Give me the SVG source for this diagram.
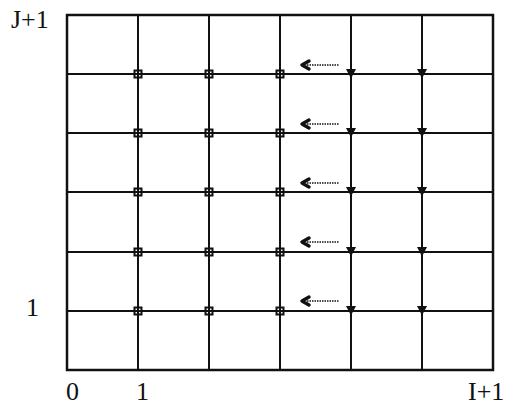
<svg xmlns="http://www.w3.org/2000/svg" width="505" height="405" viewBox="0 0 505 405">
<defs>
<style>
.g{stroke:#111;stroke-width:2;fill:none}
.o{stroke:#111;stroke-width:2.5;fill:none}
.t{font-family:"Liberation Serif","Times New Roman",serif;font-size:26px;fill:#111}
.sq{fill:none;stroke:#111;stroke-width:2}
.tri{fill:#111}
.ar{stroke:#111;stroke-width:1.6;stroke-dasharray:1.5 1;fill:none}
.ah{stroke:#111;stroke-width:3.5;fill:none;stroke-linecap:round;stroke-linejoin:round}
</style>
<g id="sqm"><rect class="sq" x="-3.5" y="-3.5" width="7" height="7"/></g>
<g id="trm"><path class="tri" d="M-5,-5 L5,-5 L0,4.5 Z"/></g>
<g id="arm"><path class="ar" d="M7,0 L39,0"/><path class="ah" d="M9,-4 L2,0 L9,4"/></g>
</defs>
<rect width="505" height="405" fill="#fff"/>
<g id="grid">
<rect class="o" x="67" y="15" width="426" height="355"/>
<path class="g" d="M138,15V370M209,15V370M280,15V370M351,15V370M422,15V370"/>
<path class="g" d="M67,74H493M67,133H493M67,192H493M67,252H493M67,311H493"/>
</g>
<g id="markers">
<g id="row1"><use href="#sqm" x="138" y="74"/><use href="#sqm" x="209" y="74"/><use href="#sqm" x="280" y="74"/><use href="#trm" x="351" y="74"/><use href="#trm" x="422" y="74"/></g>
<g id="row2"><use href="#sqm" x="138" y="133"/><use href="#sqm" x="209" y="133"/><use href="#sqm" x="280" y="133"/><use href="#trm" x="351" y="133"/><use href="#trm" x="422" y="133"/></g>
<g id="row3"><use href="#sqm" x="138" y="192"/><use href="#sqm" x="209" y="192"/><use href="#sqm" x="280" y="192"/><use href="#trm" x="351" y="192"/><use href="#trm" x="422" y="192"/></g>
<g id="row4"><use href="#sqm" x="138" y="252"/><use href="#sqm" x="209" y="252"/><use href="#sqm" x="280" y="252"/><use href="#trm" x="351" y="252"/><use href="#trm" x="422" y="252"/></g>
<g id="row5"><use href="#sqm" x="138" y="311"/><use href="#sqm" x="209" y="311"/><use href="#sqm" x="280" y="311"/><use href="#trm" x="351" y="311"/><use href="#trm" x="422" y="311"/></g>
</g>
<g id="connectors">
<use href="#arm" x="300" y="65"/>
<use href="#arm" x="300" y="124"/>
<use href="#arm" x="300" y="183"/>
<use href="#arm" x="300" y="242"/>
<use href="#arm" x="300" y="301"/>
</g>
<g id="labels">
<text class="t" x="11" y="28">J+1</text>
<text class="t" x="26" y="316">1</text>
<text class="t" x="66" y="400">0</text>
<text class="t" x="136" y="400">1</text>
<text class="t" x="468" y="400">I+1</text>
</g>
</svg>
